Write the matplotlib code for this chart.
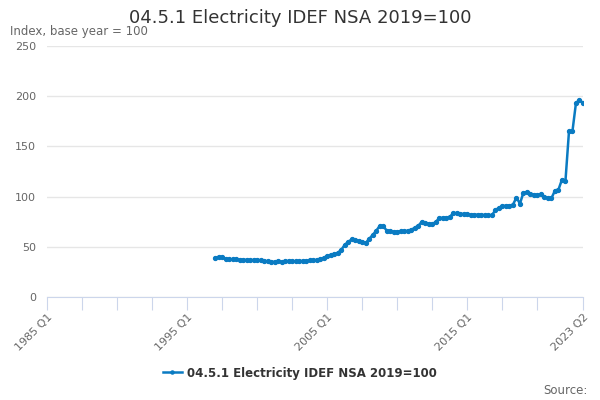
"""
04.5.1 Electricity IDEF NSA 2019=100
"""
import matplotlib
matplotlib.use("Agg")
import matplotlib.pyplot as plt

# Trimestres 1985 Q1 .. 2023 Q2 (eje de categorías)
years = list(range(1985, 2024))
quarters = [f"{y} Q{q}" for y in years for q in range(1, 5)][:154]

first_label = "1997 Q1"
values = [
    39, 40, 39.5, 38,          # 1997
    37.5, 37.5, 37.5, 37,      # 1998
    37, 37, 36.5, 37,          # 1999
    37, 36.5, 36, 35.5,        # 2000
    35, 35, 35.5, 35,          # 2001
    35.5, 36, 35.5, 35.5,      # 2002
    35.5, 36, 36, 36.5,        # 2003
    36.5, 37, 38, 39,          # 2004
    41, 42, 42.5, 44,          # 2005
    47, 52, 55, 57.5,          # 2006
    57, 56, 55, 54,            # 2007
    58, 62, 66, 71,            # 2008
    70.5, 66, 65.5, 65,        # 2009
    65, 65.5, 65.5, 66,        # 2010
    67, 69, 71, 75,            # 2011
    74, 73, 72.5, 75,          # 2012
    78.5, 79, 79, 80,          # 2013
    83.5, 83.5, 83, 82.5,      # 2014
    82.5, 82, 82, 82,          # 2015
    82, 81.5, 81.5, 81.5,      # 2016
    86.5, 89, 90.5, 91,        # 2017
    91, 92, 99, 93,            # 2018
    104, 104.3, 103, 102,      # 2019
    101.5, 102.6, 100, 98.5,   # 2020
    98.5, 106, 107, 117,       # 2021
    116, 165, 165.5, 193.5,    # 2022
    196, 193.5,                # 2023
]
start = quarters.index(first_label)
x = list(range(start, start + len(values)))

tick_pos = list(range(0, 141, 10)) + [153]
label_pos = {0: "1985 Q1", 40: "1995 Q1", 80: "2005 Q1", 120: "2015 Q1", 153: "2023 Q2"}

color = "#0a7bc2"
grey = "#666666"

fig = plt.figure(figsize=(6, 4), dpi=100)
ax = fig.add_axes([47 / 600, 1 - 297 / 400, (583 - 47) / 600, (297 - 46) / 400])

ax.plot(x, values, color=color, lw=1.8, marker="o", ms=2.8, label="04.5.1 Electricity IDEF NSA 2019=100")

ax.set_xlim(0, 153)
ax.set_ylim(0, 250)
ax.set_yticks(range(0, 251, 50))
ax.grid(axis="y", color="#e6e6e6", lw=1)
ax.set_axisbelow(True)
for s in ["top", "right", "left"]:
    ax.spines[s].set_visible(False)
ax.spines["bottom"].set_color("#ccd6eb")
ax.tick_params(axis="y", length=0, labelsize=8, labelcolor=grey, pad=8)
ax.set_xticks(tick_pos)
ax.set_xticklabels([label_pos.get(p, "") for p in tick_pos], rotation=45,
                   ha="right", rotation_mode="anchor")
ax.tick_params(axis="x", length=9, color="#ccd6eb", labelsize=8, labelcolor=grey, pad=2)

fig.text(0.5, 1 - 18 / 400, "04.5.1 Electricity IDEF NSA 2019=100", ha="center", va="center",
         fontsize=13, color="#333333")
fig.text(10 / 600, 1 - 32 / 400, "Index, base year = 100", ha="left", va="center",
         fontsize=8.5, color=grey)
fig.text(588 / 600, 1 - 390 / 400, "Source:", ha="right", va="center", fontsize=8.5, color=grey)

leg = fig.legend(loc="center", bbox_to_anchor=(0.5, 1 - 373 / 400), frameon=False,
                 prop={"weight": "bold", "size": 8.5}, handlelength=1.6, handletextpad=0.5,
                 markerscale=0.8)
for t in leg.get_texts():
    t.set_color("#333333")

fig.savefig("out.png", dpi=100)
